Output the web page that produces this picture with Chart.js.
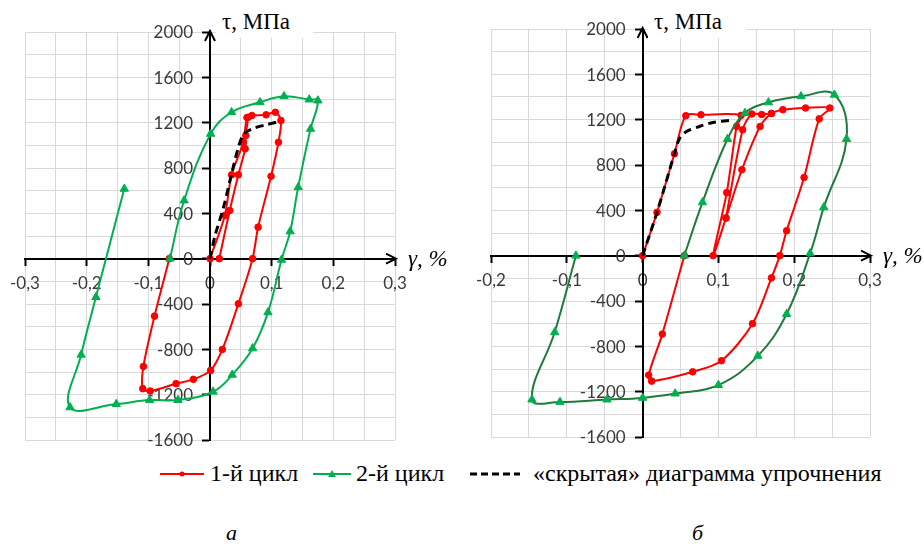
<!DOCTYPE html>
<html>
<head>
<meta charset="utf-8">
<script src="https://cdn.jsdelivr.net/npm/chart.js@4.4.0/dist/chart.umd.min.js"></script>
<style>
  html, body { margin:0; padding:0; background:#fff; }
  body { width:924px; height:544px; position:relative; overflow:hidden; }
  canvas { position:absolute; top:0; }
  .ttl { position:absolute; background:#fff; }
  .ttl span { position:absolute; left:6px; top:10px; font-family:'Liberation Serif', serif; font-size:23px; line-height:23px; color:#000; white-space:nowrap; }
  .xt { position:absolute; font-family:'Liberation Serif', serif; font-style:italic; font-size:23px; line-height:23px; color:#000; white-space:nowrap; }
  .leg { position:absolute; font-family:'Liberation Serif', serif; font-size:24px; line-height:24px; color:#000; white-space:nowrap; }
  .cap { position:absolute; font-family:'Liberation Serif', serif; font-style:italic; font-size:22px; line-height:22px; color:#000; }
  svg { position:absolute; }
</style>
</head>
<body>
<canvas id="cA" width="462" height="460" style="left:0"></canvas>
<canvas id="cB" width="462" height="460" style="left:462px"></canvas>

<div class="ttl" style="left:216px;top:0;width:97px;height:38px"><span>τ, МПа</span></div>
<div class="ttl" style="left:648px;top:0;width:99px;height:38px"><span>τ, МПа</span></div>
<div class="xt" style="left:408px;top:247px">γ, %</div>
<div class="xt" style="left:883px;top:244px">γ, %</div>

<svg style="left:160px;top:466px" width="44" height="16"><line x1="0" y1="8" x2="44" y2="8" stroke="#ff0000" stroke-width="2"/><circle cx="22" cy="8" r="2.5" fill="#ff0000"/></svg>
<div class="leg" style="left:210px;top:461px">1-й цикл</div>
<svg style="left:313px;top:466px" width="38" height="16"><line x1="0" y1="8" x2="38" y2="8" stroke="#00b050" stroke-width="2"/><polygon points="19,4 23,11 15,11" fill="#00b050"/></svg>
<div class="leg" style="left:356px;top:461px">2-й цикл</div>
<svg style="left:470px;top:466px" width="50" height="16"><line x1="0" y1="8" x2="50" y2="8" stroke="#000" stroke-width="3" stroke-dasharray="7,4"/></svg>
<div class="leg" style="left:533px;top:461px">«скрытая» диаграмма упрочнения</div>

<div class="cap" style="left:226px;top:522px">а</div>
<div class="cap" style="left:692px;top:522px">б</div>

<script>
// ---------- Panel а ----------
const redA_gamma = [0, 0.024, 0.035, 0.054, 0.060, 0.068, 0.091, 0.106, 0.115, 0.111, 0.099, 0.078, 0.069, 0.046, 0.020, 0.001, -0.027, -0.055, -0.097, -0.109, -0.108, -0.090, -0.066];
const redA_tau   = [0, 381, 740, 1027, 1245, 1263, 1269, 1292, 1219, 1027, 727, 278, 0, -398, -801, -986, -1065, -1103, -1168, -1147, -951, -507, 0];
const redA2_gamma = [0.015, 0.032, 0.046, 0.057, 0.058, 0.062];
const redA2_tau   = [0, 425, 740, 969, 1086, 1248];
const greenA_gamma = [-0.065, -0.042, 0.001, 0.035, 0.081, 0.120, 0.161, 0.175, 0.163, 0.143, 0.130, 0.116, 0.094, 0.069, 0.036, 0.005, -0.052, -0.098, -0.152, -0.227, -0.209, -0.185, -0.139];
const greenA_tau   = [0, 513, 1101, 1292, 1380, 1433, 1404, 1395, 1145, 630, 240, -10, -474, -792, -1025, -1174, -1248, -1248, -1283, -1312, -848, -339, 616];
const blackA_gamma = [0, 0.008, 0.022, 0.035, 0.047, 0.055, 0.068, 0.090, 0.113];
const blackA_tau   = [0, 200, 454, 749, 1000, 1100, 1145, 1180, 1210];

// ---------- Panel б ----------
const redB_gamma = [0, 0.019, 0.042, 0.057, 0.077, 0.130, 0.124, 0.111, 0.093, 0.110, 0.131, 0.155, 0.170, 0.185, 0.215, 0.247, 0.233, 0.213, 0.190, 0.181, 0.170, 0.145, 0.104, 0.066, 0.012, 0.008, 0.026, 0.055];
const redB_tau   = [0, 382, 899, 1235, 1243, 1238, 1140, 556, 0, 332, 758, 1140, 1255, 1288, 1303, 1303, 1207, 690, 220, 0, -196, -600, -927, -1025, -1107, -1054, -692, 0];
const redB2_gamma = [0.110, 0.132, 0.144, 0.157, 0.170];
const redB2_tau   = [332, 1111, 1250, 1245, 1255];
const greenB_gamma = [0.055, 0.079, 0.112, 0.135, 0.166, 0.209, 0.253, 0.269, 0.239, 0.221, 0.190, 0.152, 0.100, 0.043, 0.000, -0.047, -0.109, -0.146, -0.116, -0.088];
const greenB_tau   = [0, 470, 1029, 1258, 1352, 1406, 1420, 1029, 426, 20, -515, -884, -1142, -1217, -1255, -1270, -1291, -1270, -676, 0];
const blackB_gamma = [0, 0.019, 0.042, 0.049, 0.058, 0.075, 0.093, 0.114];
const blackB_tau   = [0, 382, 899, 1038, 1096, 1140, 1175, 1193];

// ---------- Axes ----------
const xRangeA = [-0.3, 0.3];
const xRangeB = [-0.2, 0.3];
const yRange = [-1600, 2000];
const yTickLabels = [-1600, -1200, -800, -400, 0, 400, 800, 1200, 1600, 2000];
const xLabelStep = 0.1, xGridStep = 0.05;
const yLabelStep = 400, yGridStep = 200;
const TICK_FONT = {family: 'Lato', size: 17};
const TICK_COLOR = '#3a3a3a';

const RED = '#ff0000', GREEN = '#00b050', GREEN_DARK = '#1f7a3d';

function pts(g, t) { return g.map((v, i) => ({x: v, y: t[i]})); }

function isXLabel(v) { return Math.abs(Math.round(v * 100)) % Math.round(xLabelStep * 100) === 0; }
function fmtX(v) {
  const r = Math.round(v * 100);
  if (!isXLabel(v)) return '';
  if (r === 0) return '0';
  return (r / 100).toFixed(1).replace('.', ',');
}
function isYLabel(v) { return Math.round(v) % yLabelStep === 0; }

const axisDecor = {
  id: 'axisDecor',
  beforeDatasetsDraw(chart) {
    const {ctx, scales: {x, y}} = chart;
    const x0 = x.getPixelForValue(0);
    ctx.save();
    ctx.font = TICK_FONT.size + 'px ' + TICK_FONT.family;
    ctx.fillStyle = TICK_COLOR; ctx.textAlign = 'right'; ctx.textBaseline = 'middle';
    yTickLabels.forEach(v => ctx.fillText(String(v), x0 - 17, y.getPixelForValue(v) + 1));
    ctx.restore();
  },
  afterDraw(chart) {
    const {ctx, chartArea: a, scales: {x, y}} = chart;
    const x0 = x.getPixelForValue(0), y0 = y.getPixelForValue(0);
    ctx.save();
    ctx.strokeStyle = '#000'; ctx.lineWidth = 2; ctx.lineJoin = 'miter';
    ctx.beginPath(); ctx.moveTo(x0 - 5, a.top + 9); ctx.lineTo(x0, a.top - 1); ctx.lineTo(x0 + 5, a.top + 9); ctx.stroke();
    ctx.beginPath(); ctx.moveTo(a.right - 9, y0 - 5); ctx.lineTo(a.right + 1, y0); ctx.lineTo(a.right - 9, y0 + 5); ctx.stroke();
    ctx.restore();
  }
};

function makeChart(id, xr, sets, pad) {
  return new Chart(document.getElementById(id), {
    type: 'scatter',
    data: {datasets: sets},
    options: {
      responsive: false, animation: false, events: [],
      layout: {padding: pad},
      plugins: {legend: {display: false}, tooltip: {enabled: false}},
      scales: {
        x: {
          type: 'linear', min: xr[0], max: xr[1], position: {y: 0},
          ticks: {stepSize: xGridStep, autoSkip: false, maxRotation: 0, padding: 9, color: TICK_COLOR, font: TICK_FONT, callback: fmtX},
          grid: {color: '#d9d9d9', lineWidth: 1, tickLength: 6, tickWidth: 2,
                 tickColor: c => (c.tick && isXLabel(c.tick.value)) ? '#000' : 'rgba(0,0,0,0)'},
          border: {color: '#000', width: 2}
        },
        y: {
          type: 'linear', min: yRange[0], max: yRange[1], position: {x: 0},
          ticks: {stepSize: yGridStep, autoSkip: false, display: false},
          grid: {color: '#d9d9d9', lineWidth: 1, tickLength: 7, tickWidth: 2,
                 tickColor: c => (c.tick && isYLabel(c.tick.value)) ? '#000' : 'rgba(0,0,0,0)'},
          border: {color: '#000', width: 2}
        }
      }
    },
    plugins: [axisDecor]
  });
}

function lineSet(data, color, ptColor, style, radius, tension, dash) {
  return {
    data, showLine: true, borderColor: color, borderWidth: dash ? 3 : 2,
    borderDash: dash || [], tension,
    pointStyle: style, pointRadius: radius, pointBackgroundColor: ptColor, pointBorderColor: ptColor, pointBorderWidth: 1,
    pointHoverRadius: radius, fill: false
  };
}

makeChart('cA', xRangeA, [
  lineSet(pts(blackA_gamma, blackA_tau), '#000', '#000', 'circle', 0, 0.3, [8, 5]),
  lineSet(pts(greenA_gamma, greenA_tau), GREEN, GREEN, 'triangle', 4.8, 0.4),
  lineSet(pts(redA_gamma, redA_tau), RED, RED, 'circle', 3.3, 0.3),
  lineSet(pts(redA2_gamma, redA2_tau), RED, RED, 'circle', 3.3, 0.3)
], {left: 25, top: 32, right: 67, bottom: 20});

makeChart('cB', xRangeB, [
  lineSet(pts(blackB_gamma, blackB_tau), '#000', '#000', 'circle', 0, 0.3, [8, 5]),
  lineSet(pts(greenB_gamma, greenB_tau), GREEN_DARK, GREEN, 'triangle', 4.8, 0.4),
  lineSet(pts(redB_gamma, redB_tau), RED, RED, 'circle', 3.3, 0.3),
  lineSet(pts(redB2_gamma, redB2_tau), RED, RED, 'circle', 3.3, 0.3)
], {left: 29, top: 29, right: 54, bottom: 23});
</script>
</body>
</html>
